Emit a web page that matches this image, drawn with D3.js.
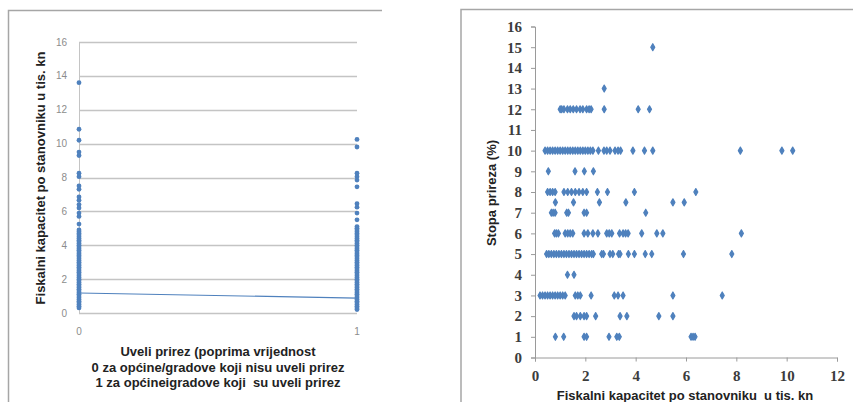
<!DOCTYPE html>
<html>
<head>
<meta charset="utf-8">
<script src="https://cdn.jsdelivr.net/npm/d3@7"></script>
<style>
    body { margin: 0; background: #fff; }
    svg { display: block; }
</style>
</head>
<body>
<div id="chart"></div>
<script>
// ---- data: left panel (0 = did not raise surtax, 1 = did) ----
var groupTicks = [0, 1];
var group0Values = [13.6, 10.85, 10.2, 9.5, 9.3, 8.25, 8.05, 7.5, 7.3, 6.85, 6.65, 6.4, 6.2, 5.9, 5.7, 5.25,
    4.9, 4.8, 4.7, 4.6, 4.5, 4.4, 4.3, 4.2, 4.1, 4.0, 3.9, 3.8, 3.7, 3.6, 3.5, 3.4, 3.3, 3.2, 3.1, 3.0,
    2.9, 2.8, 2.7, 2.6, 2.5, 2.4, 2.3, 2.2, 2.1, 2.0, 1.9, 1.8, 1.7, 1.6, 1.5, 1.4, 1.3, 1.2, 1.1, 1.0,
    0.9, 0.8, 0.7, 0.6, 0.5, 0.4, 0.3];
var group1Values = [10.25, 9.8, 8.25, 8.05, 7.85, 7.45, 6.45, 6.25, 5.9, 5.5,
    5.1, 5.0, 4.9, 4.8, 4.7, 4.6, 4.5, 4.4, 4.3, 4.2, 4.1, 4.0, 3.9, 3.8, 3.7, 3.6, 3.5, 3.4, 3.3, 3.2,
    3.1, 3.0, 2.9, 2.8, 2.7, 2.6, 2.5, 2.4, 2.3, 2.2, 2.1, 2.0, 1.9, 1.8, 1.7, 1.6, 1.5, 1.4, 1.3, 1.2,
    1.1, 1.0, 0.9, 0.8, 0.7, 0.6, 0.5, 0.4, 0.3, 0.2];
var groupMeans = [1.18, 0.88];
var leftYTicks = [0, 2, 4, 6, 8, 10, 12, 14, 16];

// ---- data: right panel, fiscal capacity by surtax rate ----
var rates = [15, 13, 12, 10, 9, 8, 7.5, 7, 6, 5, 4, 3, 2, 1];
var capacityByRate = [
    [4.68],
    [2.75],
    [1.0, 1.06, 1.15, 1.29, 1.4, 1.52, 1.65, 1.79, 1.9, 2.05, 2.15, 2.23, 2.75, 4.1, 4.55],
    [0.4, 0.5, 0.6, 0.7, 0.8, 0.9, 1.0, 1.1, 1.2, 1.3, 1.4, 1.5, 1.6, 1.7, 1.8, 1.9, 2.0, 2.1, 2.2, 2.3,
        2.52, 2.74, 2.85, 2.98, 3.18, 3.3, 3.4, 3.89, 4.35, 4.68, 8.16, 9.81, 10.24],
    [0.53, 1.59, 1.96, 2.32],
    [0.5, 0.6, 0.7, 0.8, 1.15, 1.3, 1.45, 1.6, 1.75, 1.9, 2.05, 2.48, 2.88, 3.95, 6.39],
    [0.81, 1.53, 2.56, 3.61, 5.48, 5.93],
    [0.65, 0.72, 0.8, 1.26, 1.33, 1.95, 2.05, 4.4],
    [0.78, 0.85, 0.93, 1.2, 1.3, 1.4, 1.5, 1.95, 2.1, 2.3, 2.5, 2.85, 2.95, 3.05, 3.36, 3.5, 3.6, 3.7,
        4.24, 4.84, 5.08, 8.2],
    [0.46, 0.55, 0.65, 0.75, 0.85, 0.95, 1.05, 1.15, 1.25, 1.35, 1.45, 1.55, 1.65, 1.75, 1.85, 1.95,
        2.05, 2.15, 2.25, 2.32, 2.65, 2.72, 2.98, 3.09, 3.32, 3.38, 3.71, 3.95, 4.38, 4.64, 5.9, 7.82],
    [1.29, 1.55],
    [0.2, 0.3, 0.4, 0.5, 0.6, 0.7, 0.8, 0.9, 1.0, 1.1, 1.2, 1.6, 1.7, 1.8, 2.23, 3.15, 3.3, 3.5, 5.48, 7.44],
    [1.55, 1.65, 1.8, 1.95, 2.05, 2.41, 3.38, 3.65, 4.92, 5.48],
    [0.81, 1.14, 1.95, 2.05, 2.94, 3.25, 3.35, 6.2, 6.28, 6.36]
];
var rightXTicks = [0, 2, 4, 6, 8, 10, 12];
var rightYTicks = d3.range(0, 17);

var blue = "#4f81bd";
var titleFont = "Arial, 'Liberation Sans', sans-serif";

var svg = d3.select("#chart").append("svg")
    .attr("width", 853)
    .attr("height", 402);

// panel frames (top + left edges only are visible)
svg.append("path")
    .attr("d", "M8.5,402 L8.5,10.5 L382,10.5")
    .attr("fill", "none")
    .attr("stroke", "#a6a6a6")
    .attr("stroke-width", 1.5);
svg.append("path")
    .attr("d", "M461,402 L461,9.5 L853,9.5")
    .attr("fill", "none")
    .attr("stroke", "#a6a6a6")
    .attr("stroke-width", 1.5);

/*
 * Left panel
 */
var left = {x0: 79, x1: 357, y0: 313, y1: 42};

var lx = d3.scaleLinear().domain([0, 1]).range([left.x0, left.x1]);
var ly = d3.scaleLinear().domain([0, 16]).range([left.y0, left.y1]);

var lg = svg.append("g");

lg.append("g")
    .selectAll("line")
    .data(leftYTicks)
    .enter().append("line")
    .attr("x1", left.x0)
    .attr("x2", left.x1)
    .attr("y1", function (d) { return Math.round(ly(d)) + 0.5; })
    .attr("y2", function (d) { return Math.round(ly(d)) + 0.5; })
    .attr("stroke", "#c4c4c4")
    .attr("stroke-width", 1.3);

lg.append("line")
    .attr("x1", left.x0 + 0.5).attr("x2", left.x0 + 0.5)
    .attr("y1", left.y1).attr("y2", left.y0)
    .attr("stroke", "#c4c4c4");

lg.append("g")
    .selectAll("text")
    .data(leftYTicks)
    .enter().append("text")
    .attr("x", 67)
    .attr("y", function (d) { return ly(d) + 3.5; })
    .attr("text-anchor", "end")
    .style("font-family", titleFont)
    .style("font-size", "10px")
    .attr("fill", "#8c8c8c")
    .text(function (d) { return d; });

lg.append("g")
    .selectAll("text")
    .data(groupTicks)
    .enter().append("text")
    .attr("x", function (d) { return lx(d); })
    .attr("y", 335)
    .attr("text-anchor", "middle")
    .style("font-family", titleFont)
    .style("font-size", "10px")
    .attr("fill", "#8c8c8c")
    .text(function (d) { return d; });

// mean line between the two groups
lg.append("path")
    .datum(groupMeans)
    .attr("d", d3.line()
        .x(function (d, i) { return lx(groupTicks[i]); })
        .y(function (d) { return ly(d); }))
    .attr("fill", "none")
    .attr("stroke", blue)
    .attr("stroke-width", 1.2);

var leftPoints = group0Values.map(function (v) { return {g: 0, v: v}; })
    .concat(group1Values.map(function (v) { return {g: 1, v: v}; }));

lg.append("g")
    .selectAll("circle")
    .data(leftPoints)
    .enter().append("circle")
    .attr("cx", function (d) { return lx(d.g); })
    .attr("cy", function (d) { return ly(d.v); })
    .attr("r", 2.4)
    .attr("fill", blue);

lg.append("text")
    .attr("transform", "translate(45,178) rotate(-90)")
    .attr("text-anchor", "middle")
    .style("font-family", titleFont)
    .style("font-size", "13px")
    .style("font-weight", "bold")
    .attr("fill", "#222")
    .text("Fiskalni kapacitet po stanovniku u tis. kn");

var xTitleLines = ["Uveli prirez (poprima vrijednost",
    "0 za općine/gradove koji nisu uveli prirez",
    "1 za općineigradove koji  su uveli prirez"];

lg.append("g")
    .selectAll("text")
    .data(xTitleLines)
    .enter().append("text")
    .attr("x", 218)
    .attr("y", function (d, i) { return 356 + i * 15.5; })
    .attr("text-anchor", "middle")
    .style("font-family", titleFont)
    .style("font-size", "13px")
    .style("font-weight", "bold")
    .style("white-space", "pre")
    .attr("fill", "#222")
    .text(function (d) { return d; });

/*
 * Right panel
 */
var right = {x0: 535, x1: 837, y0: 357.5, y1: 26.5};

var rx = d3.scaleLinear().domain([0, 12]).range([right.x0, right.x1]);
var ry = d3.scaleLinear().domain([0, 16]).range([right.y0, right.y1]);

var rg = svg.append("g");

var xAxis = rg.append("g")
    .attr("transform", "translate(0," + right.y0 + ")")
    .call(d3.axisBottom(rx).tickValues(rightXTicks).tickSize(4).tickFormat(d3.format("d")));
var yAxis = rg.append("g")
    .attr("transform", "translate(" + right.x0 + ",0)")
    .call(d3.axisLeft(ry).tickValues(rightYTicks).tickSize(4).tickFormat(d3.format("d")));

[xAxis, yAxis].forEach(function (a) {
    a.select(".domain").attr("stroke", "#9a9a9a");
    a.selectAll(".tick line").attr("stroke", "#9a9a9a");
    a.selectAll(".tick text")
        .style("font-family", "'Liberation Serif', 'DejaVu Serif', serif")
        .style("font-size", "15px")
        .style("font-weight", "bold")
        .attr("fill", "#3c3c3c");
});
xAxis.selectAll(".tick text").attr("y", 13).attr("dy", "0.71em");
yAxis.selectAll(".tick text").attr("x", -13);

var rightPoints = [];
rates.forEach(function (r, i) {
    capacityByRate[i].forEach(function (c) { rightPoints.push({x: c, y: r}); });
});

rg.append("g")
    .selectAll("path")
    .data(rightPoints)
    .enter().append("path")
    .attr("d", d3.symbol().type(d3.symbolDiamond).size(14))
    .attr("transform", function (d) { return "translate(" + rx(d.x) + "," + ry(d.y) + ")"; })
    .attr("fill", blue)
    .attr("stroke", blue)
    .attr("stroke-width", 1.2)
    .attr("stroke-linejoin", "round");

rg.append("text")
    .attr("transform", "translate(496,193) rotate(-90)")
    .attr("text-anchor", "middle")
    .style("font-family", titleFont)
    .style("font-size", "13px")
    .style("font-weight", "bold")
    .attr("fill", "#222")
    .text("Stopa prireza (%)");

rg.append("text")
    .attr("x", 685)
    .attr("y", 400)
    .attr("text-anchor", "middle")
    .style("font-family", titleFont)
    .style("font-size", "13px")
    .style("font-weight", "bold")
    .style("white-space", "pre")
    .attr("fill", "#222")
    .text("Fiskalni kapacitet po stanovniku  u tis. kn");
</script>
</body>
</html>
